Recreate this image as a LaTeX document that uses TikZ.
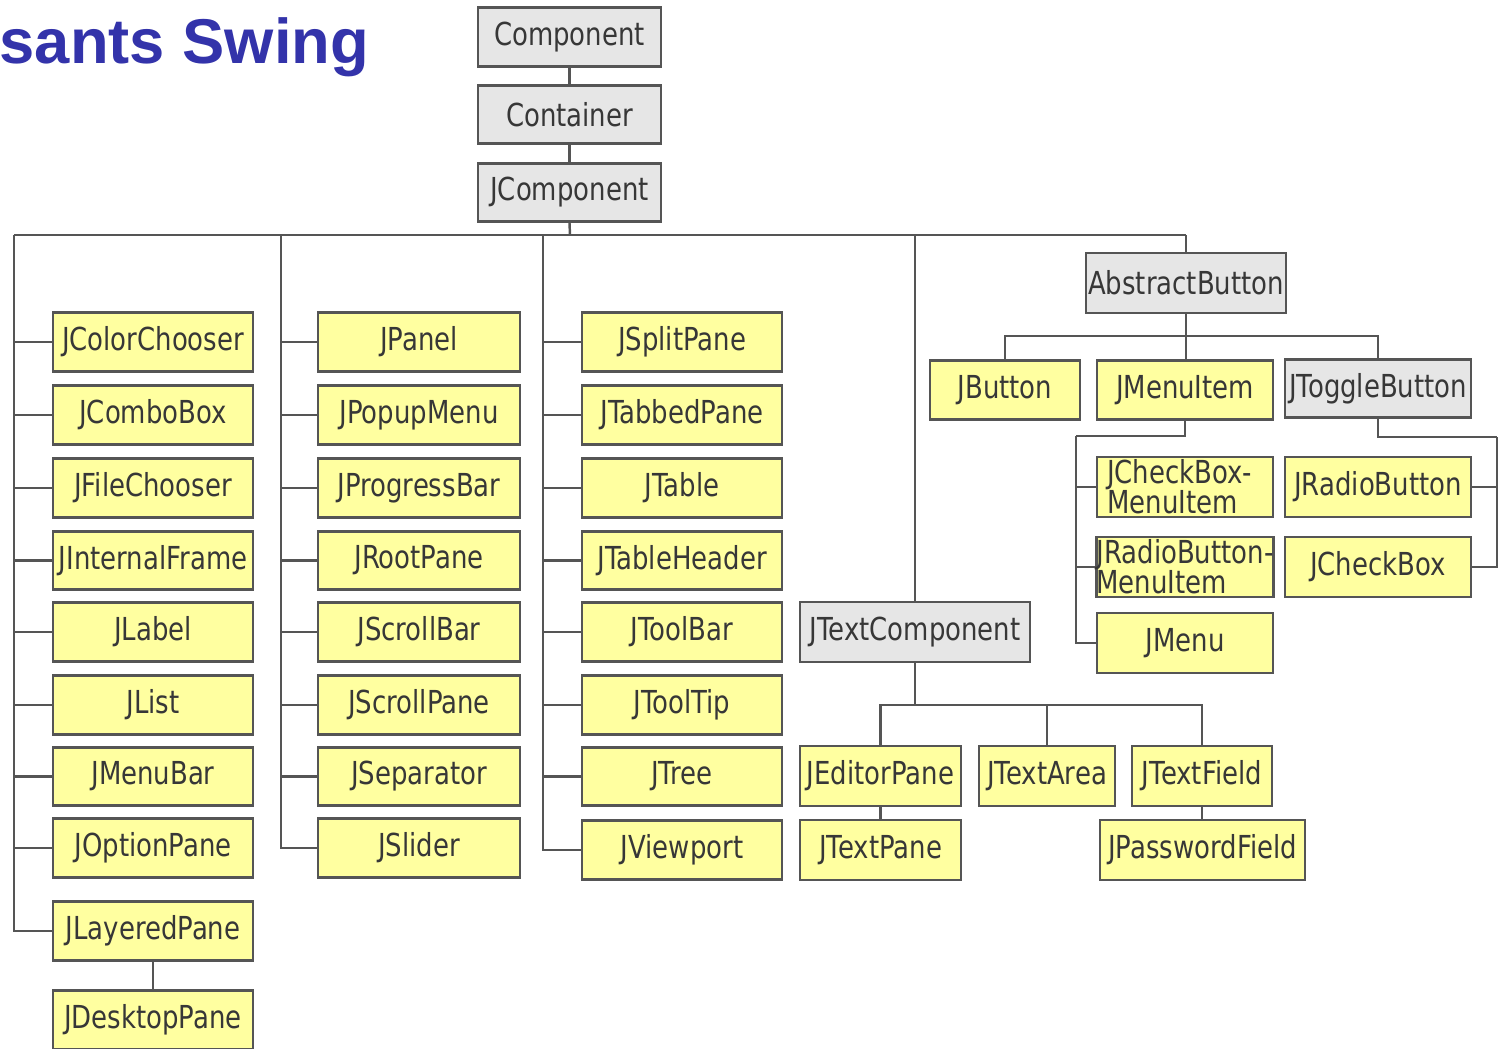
\documentclass[tikz,border=0pt]{standalone}
\usepackage{fontspec}
\newfontfamily\boxfont{DejaVu Sans}[FakeStretch=0.82]
\newfontfamily\titlefont{Liberation Sans}
\definecolor{titleblue}{RGB}{51,51,170}
\definecolor{boxyellow}{RGB}{255,255,160}
\definecolor{boxgray}{RGB}{230,230,230}
\definecolor{edge}{RGB}{85,85,85}
\definecolor{txt}{RGB}{55,55,55}
\tikzset{
  yb/.style={draw=edge, line width=0.8pt, fill=boxyellow, minimum height=0.585cm, inner sep=0pt,
    font=\boxfont\fontsize{9pt}{10pt}\selectfont, text=txt},
  gb/.style={yb, fill=boxgray},
  link/.style={draw=edge, line width=0.7pt},
}
\begin{document}
\begin{tikzpicture}[x=0.01cm, y=-0.01cm]
\useasboundingbox (0,0) rectangle (1503,1048);
\node[anchor=base west, font=\titlefont\bfseries\fontsize{18pt}{20pt}\selectfont, text=titleblue, inner sep=0pt] (title) at (-1,63) {sants Swing};

% top chain
\node[gb, minimum width=1.83cm] (comp) at (569.5,37) {Component};
\node[gb, minimum width=1.83cm] (cont) at (569.5,114.5) {Container};
\node[gb, minimum width=1.83cm] (jcomp) at (569.5,192.5) {JComponent};
\draw[link] (comp) -- (cont);
\draw[link] (cont) -- (jcomp);

% main bus
\coordinate (c1) at (14,235);
\coordinate (c2) at (281,235);
\coordinate (cj) at (570,235);
\coordinate (c3) at (543,235);
\coordinate (c4) at (915,235);
\coordinate (cab) at (1186,235);
\draw[link] (jcomp.south) -- (cj);
\draw[link] (c1) -- (cab);

% column 1
\node[yb, minimum width=2cm] (jcc) at (153,342) {JColorChooser};
\node[yb, minimum width=2cm] (jcbx) at (153,415) {JComboBox};
\node[yb, minimum width=2cm] (jfc) at (153,488) {JFileChooser};
\node[yb, minimum width=2cm] (jif) at (153,560.5) {JInternalFrame};
\node[yb, minimum width=2cm] (jl) at (153,632) {JLabel};
\node[yb, minimum width=2cm] (jli) at (153,705) {JList};
\node[yb, minimum width=2cm] (jmb) at (153,776.5) {JMenuBar};
\node[yb, minimum width=2cm] (jop) at (153,848) {JOptionPane};
\node[yb, minimum width=2cm] (jlp) at (153,931) {JLayeredPane};
\node[yb, minimum width=2cm] (jdp) at (153,1020) {JDesktopPane};
\foreach \n in {jcc,jcbx,jfc,jif,jl,jli,jmb,jop,jlp}{\draw[link] (c1) |- (\n.west);}
\draw[link] (jlp) -- (jdp);

% column 2
\node[yb, minimum width=2.02cm] (jp) at (419,342) {JPanel};
\node[yb, minimum width=2.02cm] (jpm) at (419,415) {JPopupMenu};
\node[yb, minimum width=2.02cm] (jpb) at (419,488) {JProgressBar};
\node[yb, minimum width=2.02cm] (jrp) at (419,560.5) {JRootPane};
\node[yb, minimum width=2.02cm] (jsb) at (419,632) {JScrollBar};
\node[yb, minimum width=2.02cm] (jsp) at (419,705) {JScrollPane};
\node[yb, minimum width=2.02cm] (jse) at (419,776.5) {JSeparator};
\node[yb, minimum width=2.02cm] (jsl) at (419,848) {JSlider};
\foreach \n in {jp,jpm,jpb,jrp,jsb,jsp,jse,jsl}{\draw[link] (c2) |- (\n.west);}

% column 3
\node[yb, minimum width=2cm] (jspl) at (682,342) {JSplitPane};
\node[yb, minimum width=2cm] (jtp) at (682,415) {JTabbedPane};
\node[yb, minimum width=2cm] (jt) at (682,488) {JTable};
\node[yb, minimum width=2cm] (jth) at (682,560.5) {JTableHeader};
\node[yb, minimum width=2cm] (jtb) at (682,632) {JToolBar};
\node[yb, minimum width=2cm] (jtt) at (682,705) {JToolTip};
\node[yb, minimum width=2cm] (jtr) at (682,776.5) {JTree};
\node[yb, minimum width=2cm] (jvp) at (682,850) {JViewport};
\foreach \n in {jspl,jtp,jt,jth,jtb,jtt,jtr,jvp}{\draw[link] (c3) |- (\n.west);}

% text components
\node[gb, minimum width=2.3cm, minimum height=0.6cm] (jtc) at (915,632) {JTextComponent};
\draw[link] (c4) -- (jtc.north);
\coordinate (tb) at (915,705);
\node[yb, minimum width=1.61cm, minimum height=0.6cm] (jep) at (880.5,776) {JEditorPane};
\node[yb, minimum width=1.36cm, minimum height=0.6cm] (jta) at (1047,776) {JTextArea};
\node[yb, minimum width=1.40cm, minimum height=0.6cm] (jtf) at (1202,776) {JTextField};
\node[yb, minimum width=1.61cm, minimum height=0.6cm] (jtpn) at (880.5,850) {JTextPane};
\node[yb, minimum width=2.05cm, minimum height=0.6cm] (jpf) at (1202.5,850) {JPasswordField};
\draw[link] (jtc.south) -- (tb);
\draw[link] (jep.north) |- (tb) -| (jtf.north);
\draw[link] (jta.north) -- (jta.north |- tb);
\draw[link] (jep) -- (jtpn);
\draw[link] (jtf) -- (jtf |- jpf.north);

% buttons
\node[gb, minimum width=2cm, minimum height=0.6cm] (ab) at (1186,283) {AbstractButton};
\draw[link] (cab) -- (ab.north);
\coordinate (abb) at (1186,336);
\node[yb, minimum width=1.5cm] (jbt) at (1005,390) {JButton};
\node[yb, minimum width=1.76cm] (jmi) at (1185,390) {JMenuItem};
\node[gb, minimum width=1.86cm] (jtgb) at (1378,388.5) {JToggleButton};
\draw[link] (ab.south) -- (ab.south |- jmi.north);
\draw[link] (jbt.north) |- (abb) -| (jtgb.north);

\node[yb, minimum width=1.76cm, minimum height=0.6cm, align=left, font=\boxfont\fontsize{9pt}{8.6pt}\selectfont] (jcbmi) at (1185,487) {JCheckBox-\\MenuItem\hspace*{0.8em}};
\node[yb, minimum width=1.76cm, minimum height=0.6cm, align=left, font=\boxfont\fontsize{9pt}{8.6pt}\selectfont] (jrbmi) at (1185,567) {JRadioButton-\\MenuItem};
\node[yb, minimum width=1.76cm, minimum height=0.6cm] (jmn) at (1185,643) {JMenu};
\coordinate (mt) at (1076,436);
\draw[link] (jmi.south) |- (mt);
\foreach \n in {jcbmi,jrbmi,jmn}{\draw[link] (mt) |- (\n.west);}

\node[yb, minimum width=1.86cm, minimum height=0.6cm] (jrb) at (1378,487) {JRadioButton};
\node[yb, minimum width=1.86cm, minimum height=0.6cm] (jcb) at (1378,567) {JCheckBox};
\coordinate (tt) at (1497,437);
\draw[link] (jtgb.south) |- (tt);
\foreach \n in {jrb,jcb}{\draw[link] (tt) |- (\n.east);}
\end{tikzpicture}
\end{document}
